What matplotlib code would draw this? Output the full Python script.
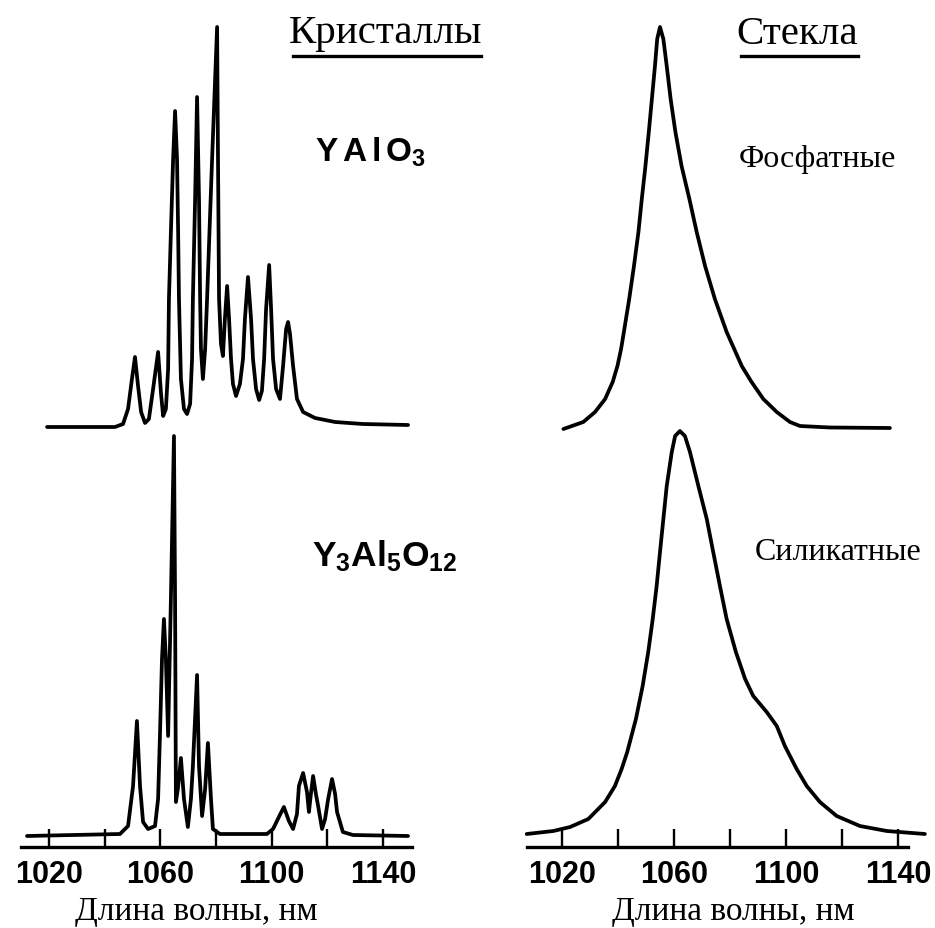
import matplotlib
matplotlib.use("Agg")
import matplotlib.pyplot as plt

# --- data (wavelength in nm, intensity in arb. units) ---
yalo3_wl = [1019.3, 1043.7, 1046.6, 1048.4, 1049.8, 1050.9, 1052.0, 1053.1, 1054.5, 1055.9,
            1057.4, 1059.2, 1060.2, 1061.0, 1062.0, 1062.8, 1063.1, 1063.8, 1064.6, 1065.3,
            1066.0, 1066.4, 1066.7, 1067.4, 1068.5, 1069.6, 1070.7, 1071.4, 1071.7, 1072.5,
            1073.2, 1073.9, 1074.3, 1074.6, 1075.3, 1076.1, 1076.8, 1078.6, 1080.4, 1080.7,
            1081.1, 1081.8, 1082.5, 1083.2, 1084.0, 1084.7, 1085.4, 1086.1, 1087.2, 1088.6,
            1089.7, 1090.4, 1091.5, 1092.6, 1093.3, 1094.4, 1095.5, 1096.5, 1097.3, 1098.0,
            1099.1, 1099.8, 1100.5, 1101.6, 1103.0, 1104.1, 1105.2, 1105.9, 1106.6, 1107.7,
            1109.1, 1111.3, 1115.6, 1122.8, 1132.8, 1149.0]
yalo3_int = [0, 0, 3, 18, 48, 70, 41, 15, 4, 8,
             38, 75, 35, 11, 18, 58, 128, 195, 268, 316,
             268, 195, 128, 48, 18, 13, 23, 68, 128, 228,
             330, 228, 128, 78, 48, 78, 128, 268, 400, 278,
             128, 83, 71, 108, 141, 108, 68, 43, 31, 43,
             68, 108, 150, 108, 68, 38, 27, 36, 68, 118,
             162, 118, 68, 38, 28, 61, 98, 105, 93, 61,
             28, 15, 9, 5, 3, 2]

yag_wl = [1012.1, 1045.5, 1048.4, 1050.2, 1051.6, 1052.7, 1053.8, 1055.6, 1058.1, 1059.2,
          1059.9, 1060.6, 1061.3, 1062.0, 1062.8, 1063.8, 1064.9, 1065.3, 1065.6, 1066.3,
          1067.4, 1068.5, 1069.9, 1071.0, 1071.7, 1073.2, 1073.9, 1075.0, 1076.1, 1077.1,
          1078.2, 1078.9, 1081.4, 1098.3, 1100.5, 1102.6, 1104.4, 1106.2, 1107.7, 1109.1,
          1109.8, 1111.3, 1112.7, 1113.4, 1114.1, 1114.9, 1115.9, 1116.7, 1118.1, 1119.2,
          1120.3, 1121.7, 1122.8, 1123.5, 1125.6, 1129.2, 1149.0]
yag_int = [0, 2, 10, 50, 115, 50, 14, 7, 10, 37,
           104, 177, 217, 177, 100, 237, 400, 237, 34, 47,
           78, 37, 9, 37, 70, 161, 70, 20, 47, 93,
           37, 7, 2, 2, 7, 19, 29, 15, 7, 22,
           50, 63, 44, 24, 42, 60, 42, 30, 7, 17,
           37, 57, 42, 24, 4, 1, 0]

phosphate_wl = [1020.5, 1027.6, 1031.8, 1035.4, 1038.1, 1039.8, 1041.1, 1042.1, 1044.0, 1045.7,
                1047.3, 1048.5, 1049.8, 1051.0, 1052.1, 1053.2, 1054.0, 1055.0, 1056.2, 1057.4,
                1058.8, 1060.5, 1062.7, 1065.5, 1068.1, 1071.1, 1074.6, 1078.8, 1084.2, 1087.7,
                1091.9, 1096.7, 1101.4, 1105.0, 1115.7, 1137.1]
phosphate_int = [1, 8, 18, 31, 48, 64, 81, 98, 131, 164,
                 198, 231, 264, 298, 331, 364, 391, 403, 391, 364,
                 331, 298, 264, 231, 198, 164, 131, 98, 64, 48,
                 31, 18, 8, 4, 2.5, 2]

silicate_wl = [1007.4, 1016.9, 1022.9, 1029.4, 1035.4, 1038.9, 1041.3, 1043.3, 1046.4, 1048.8,
               1050.8, 1052.4, 1053.8, 1055.0, 1056.2, 1057.4, 1059.2, 1060.4, 1062.1, 1063.9,
               1065.7, 1068.7, 1071.7, 1074.0, 1076.4, 1078.8, 1082.1, 1085.4, 1088.3, 1093.1,
               1096.7, 1099.6, 1103.8, 1107.4, 1112.1, 1118.1, 1126.4, 1136.0, 1149.6]
silicate_int = [0, 3, 7, 15, 32, 48, 65, 82, 115, 148,
                182, 215, 248, 282, 315, 348, 382, 398, 403, 398,
                382, 348, 315, 282, 248, 215, 182, 155, 138, 122,
                108, 88, 65, 48, 32, 18, 8, 3, 0]

tick_values = [1020, 1040, 1060, 1080, 1100, 1120, 1140]
tick_labels = ["1020", "", "1060", "", "1100", "", "1140"]

# --- styling ---
plt.rcParams["mathtext.fontset"] = "custom"
plt.rcParams["mathtext.rm"] = "Liberation Sans:bold"
plt.rcParams["mathtext.it"] = "Liberation Sans:bold"
plt.rcParams["mathtext.bf"] = "Liberation Sans:bold"

W, H = 935, 929
fig = plt.figure(figsize=(W / 100, H / 100), dpi=100)
LW = 2.7


def px_axes(x0, x1, y_top, y_bottom):
    return fig.add_axes([x0 / W, (H - y_bottom) / H, (x1 - x0) / W, (y_bottom - y_top) / H])


def style_axis(ax):
    for side in ("left", "right", "top"):
        ax.spines[side].set_visible(False)
    ax.spines["bottom"].set_linewidth(2.4)
    ax.set_yticks([])
    ax.set_xticks(tick_values)
    ax.set_xticklabels(tick_labels, fontfamily="Liberation Sans", fontweight="bold", fontsize=22)
    ax.tick_params(axis="x", direction="in", length=13, width=1.7, pad=9)
    ax.patch.set_alpha(0)


def spectrum(ax, wl, values, offset=0):
    ax.plot(wl, [v + offset for v in values], color="black", lw=LW,
            solid_joinstyle="round", solid_capstyle="round", clip_on=False)


# left column: crystals
ax_l = px_axes(21, 412, 0, 848)
ax_l.set_xlim(1009.94, 1150.43)
ax_l.set_ylim(-11, 837)
style_axis(ax_l)
spectrum(ax_l, yag_wl, yag_int)
spectrum(ax_l, yalo3_wl, yalo3_int, offset=409)

# right column: glasses
ax_r = px_axes(527, 908, 0, 848)
ax_r.set_xlim(1007.5, 1143.57)
ax_r.set_ylim(-13, 835)
style_axis(ax_r)
spectrum(ax_r, silicate_wl, silicate_int)
spectrum(ax_r, phosphate_wl, phosphate_int, offset=404)

serif = "Liberation Serif"


def ftext(x, y, s, **kw):
    fig.text(x / W, 1 - y / H, s, **kw)


# headers with underline
ftext(386, 34, "Кристаллы", family=serif, fontsize=29.5, ha="center", va="center")
ftext(797, 34, "Стекла", family=serif, fontsize=29.5, ha="center", va="center")
for x0, x1 in ((293, 481), (741, 858)):
    fig.add_artist(plt.Line2D([x0 / W, x1 / W], [1 - 57 / H, 1 - 57 / H],
                              color="black", lw=2.4, transform=fig.transFigure))

# sample labels
ftext(370, 152, r"$\mathrm{Y\,A\,l\,O_3}$", fontsize=24, ha="center", va="center")
ftext(385, 556, r"$\mathrm{Y_3Al_5O_{12}}$", fontsize=25.5, ha="center", va="center")
ftext(817, 160, "Фосфатные", family=serif, fontsize=23, ha="center", va="center")
ftext(838, 553, "Силикатные", family=serif, fontsize=23, ha="center", va="center")

# axis titles
ftext(196, 912, "Длина волны, нм", family=serif, fontsize=24, ha="center", va="center")
ftext(733, 912, "Длина волны, нм", family=serif, fontsize=24, ha="center", va="center")

fig.savefig("out.png", dpi=100, facecolor="white")
